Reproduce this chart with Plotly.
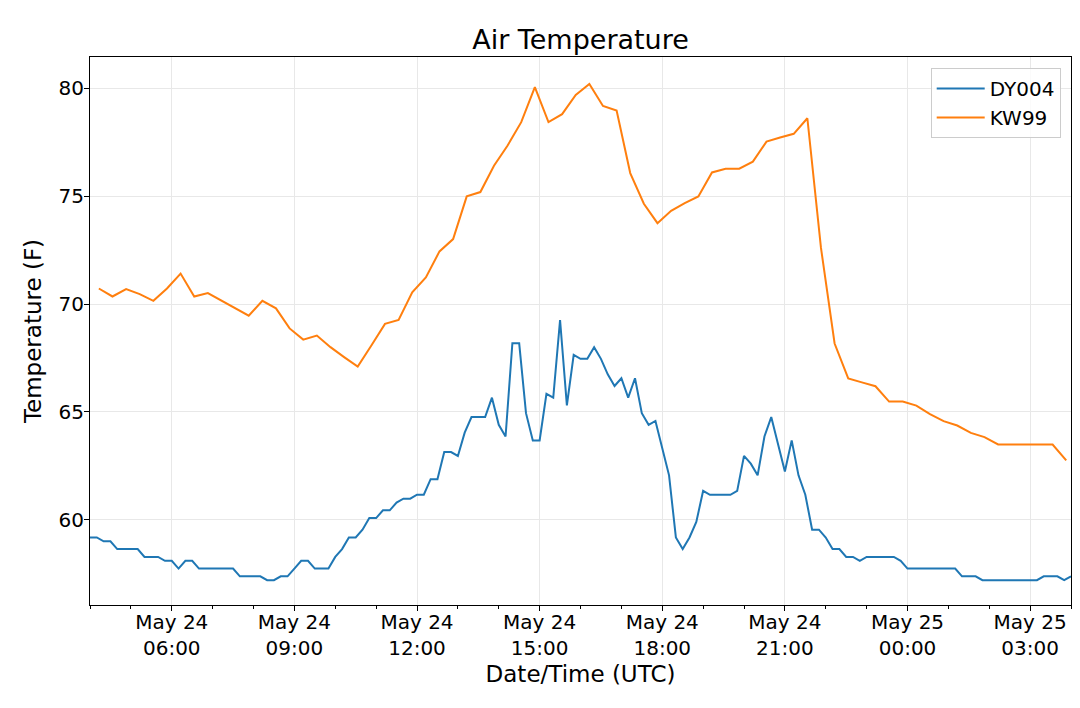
import pandas as pd
import plotly.graph_objects as go

# DY004: every 10 minutes from May 24 04:00 to May 25 04:00 UTC
dy004_times = pd.date_range("2019-05-24 04:00", "2019-05-25 04:00", freq="10min")
dy004_temp = [
    59.18, 59.18, 59.0, 59.0, 58.64, 58.64, 58.64, 58.64, 58.28, 58.28,
    58.28, 58.1, 58.1, 57.74, 58.1, 58.1, 57.74, 57.74, 57.74, 57.74,
    57.74, 57.74, 57.38, 57.38, 57.38, 57.38, 57.2, 57.2, 57.38, 57.38,
    57.74, 58.1, 58.1, 57.74, 57.74, 57.74, 58.28, 58.64, 59.18, 59.18,
    59.54, 60.08, 60.08, 60.44, 60.44, 60.8, 60.98, 60.98, 61.16, 61.16,
    61.88, 61.88, 63.14, 63.14, 62.96, 64.04, 64.76, 64.76, 64.76, 65.66,
    64.4, 63.86, 68.18, 68.18, 64.94, 63.68, 63.68, 65.84, 65.66, 69.26,
    65.3, 67.64, 67.46, 67.46, 68.0, 67.46, 66.74, 66.2, 66.56, 65.66,
    66.56, 64.94, 64.4, 64.58, 63.32, 62.06, 59.18, 58.64, 59.18, 59.9,
    61.34, 61.16, 61.16, 61.16, 61.16, 61.34, 62.96, 62.6, 62.06, 63.86,
    64.76, 63.5, 62.24, 63.68, 62.06, 61.16, 59.54, 59.54, 59.18, 58.64,
    58.64, 58.28, 58.28, 58.1, 58.28, 58.28, 58.28, 58.28, 58.28, 58.1,
    57.74, 57.74, 57.74, 57.74, 57.74, 57.74, 57.74, 57.74, 57.38, 57.38,
    57.38, 57.2, 57.2, 57.2, 57.2, 57.2, 57.2, 57.2, 57.2, 57.2,
    57.38, 57.38, 57.38, 57.2, 57.38,
]

# KW99: every 20 minutes at :13, :33, :53
kw99_times = pd.date_range("2019-05-24 04:13", "2019-05-25 03:53", freq="20min")
kw99_temp = [
    70.72, 70.35, 70.69, 70.46, 70.15, 70.72, 71.41, 70.35, 70.51, 70.15,
    69.81, 69.46, 70.15, 69.8, 68.87, 68.35, 68.54, 68.0, 67.54, 67.1,
    68.08, 69.08, 69.26, 70.54, 71.23, 72.44, 73.01, 74.99, 75.19, 76.41,
    77.35, 78.43, 80.05, 78.43, 78.8, 79.69, 80.2, 79.18, 78.97, 76.07,
    74.65, 73.75, 74.32, 74.68, 74.99, 76.1, 76.27, 76.27, 76.6, 77.53,
    77.72, 77.89, 78.61, 72.6, 68.17, 66.55, 66.37, 66.19, 65.48, 65.48,
    65.29, 64.9, 64.57, 64.37, 64.03, 63.83, 63.49, 63.49, 63.49, 63.49,
    63.49, 62.75,
]

tick_times = ["2019-05-24 06:00", "2019-05-24 09:00", "2019-05-24 12:00",
              "2019-05-24 15:00", "2019-05-24 18:00", "2019-05-24 21:00",
              "2019-05-25 00:00", "2019-05-25 03:00"]
tick_labels = ["May 24<br>06:00", "May 24<br>09:00", "May 24<br>12:00",
               "May 24<br>15:00", "May 24<br>18:00", "May 24<br>21:00",
               "May 25<br>00:00", "May 25<br>03:00"]
y_ticks = [60, 65, 70, 75, 80]

fig = go.Figure()
fig.add_trace(go.Scatter(x=dy004_times, y=dy004_temp, mode="lines", name="DY004",
                         line=dict(color="#1f77b4", width=2)))
fig.add_trace(go.Scatter(x=kw99_times, y=kw99_temp, mode="lines", name="KW99",
                         line=dict(color="#ff7f0e", width=2)))

font = "DejaVu Sans, sans-serif"
fig.update_layout(
    width=1080, height=708,
    template="plotly_white",
    plot_bgcolor="white",
    margin=dict(l=90, r=9, t=57, b=103),
    font=dict(family=font, color="black", size=20),
    title=dict(text="Air Temperature", x=0.5375, xanchor="center",
               y=0.944, yref="container", yanchor="middle",
               font=dict(size=27, family=font, color="black")),
    legend=dict(x=0.9895, y=0.98, xanchor="right", yanchor="top",
                bgcolor="rgba(255,255,255,0.8)", bordercolor="#cccccc", borderwidth=1,
                font=dict(size=20, family=font), itemwidth=48),
    showlegend=True,
)

fig.update_xaxes(
    range=["2019-05-24 04:00", "2019-05-25 04:00"],
    tickmode="array", tickvals=tick_times, ticktext=tick_labels,
    ticks="outside", ticklen=5, tickcolor="black", ticklabelstandoff=-6,
    showline=True, linecolor="black", linewidth=1, mirror=True,
    showgrid=True, gridcolor="#e8e8e8", gridwidth=1, zeroline=False,
    minor=dict(tickmode="linear", tick0="2019-05-24 04:00", dtick=3600000,
               ticks="outside", ticklen=3, tickcolor="black", showgrid=False),
    tickfont=dict(size=20, family=font),
    title=dict(text="Date/Time (UTC)", font=dict(size=23, family=font), standoff=6),
)
fig.update_yaxes(
    range=[56.05, 81.45],
    tickmode="array", tickvals=y_ticks,
    ticks="outside", ticklen=5, tickcolor="black", ticklabelstandoff=-4,
    showline=True, linecolor="black", linewidth=1, mirror=True,
    showgrid=True, gridcolor="#e8e8e8", gridwidth=1, zeroline=False,
    tickfont=dict(size=20, family=font),
    title=dict(text="Temperature (F)", font=dict(size=23, family=font), standoff=10),
)

fig.write_html("out.html", config={"displayModeBar": False},
               post_script="document.body.style.margin='0';")
